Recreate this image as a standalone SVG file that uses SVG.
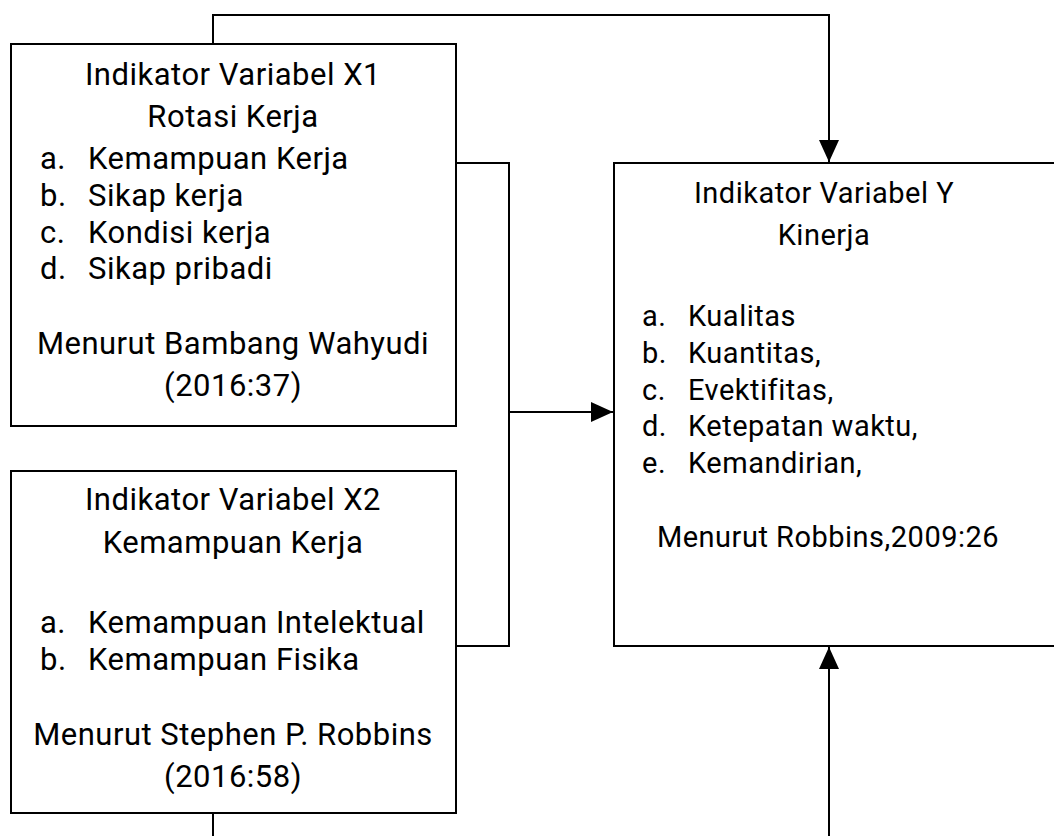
<svg xmlns="http://www.w3.org/2000/svg" width="1054" height="836" viewBox="0 0 1054 836">
<style>
.box{fill:#fff;stroke:#000;stroke-width:2}
.ln{fill:none;stroke:#000;stroke-width:2}
text{font-family:Roboto,"Liberation Sans",sans-serif;font-size:31px;letter-spacing:0.5px;fill:#000}
#y text{font-size:29px}
.c{text-anchor:middle}
</style>
<defs>
<marker id="ah" markerWidth="22" markerHeight="20" refX="22" refY="10" orient="auto" markerUnits="userSpaceOnUse">
<path d="M0,0 L22,10 L0,20 Z" fill="#000"/>
</marker>
</defs>
<g id="connectors">
<path class="ln" d="M213,44 V15 H829 V162" marker-end="url(#ah)"/>
<path class="ln" d="M456,163 H509 V646 H456"/>
<path class="ln" d="M509,412 H613" marker-end="url(#ah)"/>
<path class="ln" d="M213,813 V836"/>
<path class="ln" d="M829,836 V647" marker-end="url(#ah)"/>
</g>
<g id="x1">
<rect class="box" x="11" y="44" width="445" height="382"/>
<text class="c" x="233" y="85">Indikator Variabel X1</text>
<text class="c" x="233" y="127">Rotasi Kerja</text>
<text x="40" y="169">a.</text><text x="88" y="169">Kemampuan Kerja</text>
<text x="40" y="206">b.</text><text x="88" y="206">Sikap kerja</text>
<text x="40" y="243">c.</text><text x="88" y="243">Kondisi kerja</text>
<text x="40" y="279">d.</text><text x="88" y="279">Sikap pribadi</text>
<text class="c" x="233" y="354">Menurut Bambang Wahyudi</text>
<text class="c" x="233" y="396">(2016:37)</text>
</g>
<g id="x2">
<rect class="box" x="11" y="471" width="445" height="342"/>
<text class="c" x="233" y="510">Indikator Variabel X2</text>
<text class="c" x="233" y="553">Kemampuan Kerja</text>
<text x="40" y="633">a.</text><text x="88" y="633">Kemampuan Intelektual</text>
<text x="40" y="670">b.</text><text x="88" y="670">Kemampuan Fisika</text>
<text class="c" x="233" y="745">Menurut Stephen P. Robbins</text>
<text class="c" x="233" y="787">(2016:58)</text>
</g>
<g id="y">
<rect class="box" x="614" y="163" width="460" height="483"/>
<text class="c" x="824" y="203">Indikator Variabel Y</text>
<text class="c" x="824" y="245">Kinerja</text>
<text x="642" y="326">a.</text><text x="688" y="326">Kualitas</text>
<text x="642" y="363">b.</text><text x="688" y="363">Kuantitas,</text>
<text x="642" y="400">c.</text><text x="688" y="400">Evektifitas,</text>
<text x="642" y="436">d.</text><text x="688" y="436">Ketepatan waktu,</text>
<text x="642" y="473">e.</text><text x="688" y="473">Kemandirian,</text>
<text class="c" x="828" y="547">Menurut Robbins,2009:26</text>
</g>
</svg>
